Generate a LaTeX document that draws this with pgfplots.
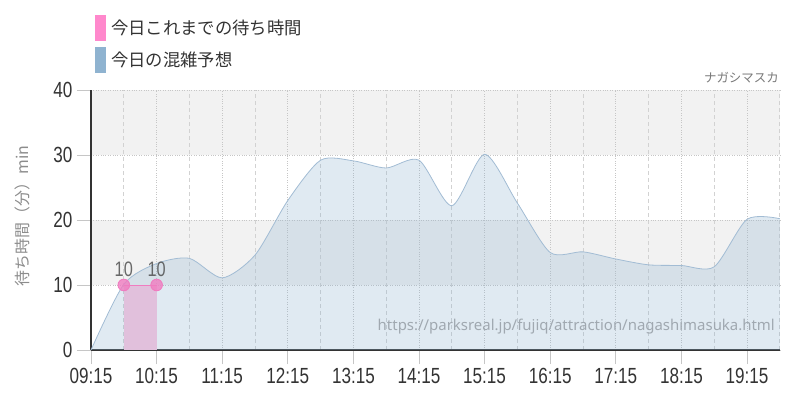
\documentclass[border=0pt]{standalone}
\usepackage{fontspec}
\usepackage{pgfplots}
\pgfplotsset{compat=1.18}
\setmainfont{Noto Sans CJK JP}
\newfontfamily\numfont[FakeStretch=0.78]{Liberation Sans}
\newfontfamily\urlfont{Noto Sans}

\definecolor{todaypink}{HTML}{FF88CC}
\definecolor{markpink}{HTML}{F07CC0}
\definecolor{pinkarea}{HTML}{E1C0DC}
\definecolor{fcblue}{HTML}{8FB3D0}
\definecolor{fcline}{HTML}{A2BCD4}
\definecolor{bandgray}{HTML}{F2F2F2}
\definecolor{txt}{HTML}{333333}
\definecolor{urlgray}{HTML}{A0A8B0}

% x = half-hour steps from 09:15
\pgfplotstableread{
k   wait
0   0
1   10.1
2   13.3
3   14.1
4   11.1
5   14.6
6   23.0
7   29.2
8   29.1
9   28.0
10  29.2
11  22.2
12  30.1
13  22.6
14  15.0
15  15.1
16  14.0
17  13.1
18  13.0
19  12.8
20  20.1
21  20.2
}\forecast

\pgfplotstableread{
k   wait
1   10
2   10
}\sofar

\begin{document}
\begin{tikzpicture}
\begin{axis}[
    set layers,
    at={(91bp,50bp)}, anchor=south west,
    scale only axis,
    width=688.8bp, height=260bp,
    xmin=0, xmax=21, ymin=0, ymax=40,
    axis x line*=bottom, axis y line*=left,
    axis line style={draw=txt, line width=1.2bp},
    xtick={0,2,...,20},
    xticklabels={09:15,10:15,11:15,12:15,13:15,14:15,15:15,16:15,17:15,18:15,19:15},
    minor xtick={1,3,...,21},
    ytick={0,10,...,40},
    grid=both,
    major grid style={draw=gray!45, dotted, line width=0.8bp},
    minor grid style={draw=gray!35, dash pattern=on 4bp off 3bp, line width=0.7bp},
    tick align=outside,
    major tick length=14bp,
    minor tick length=0pt,
    tick style={draw=gray!45, line width=0.8bp},
    /pgf/number format/assume math mode=true,
    ticklabel style={font=\numfont\fontsize{22}{22}\selectfont, text=txt},
    xticklabel style={yshift=-1bp},
    yticklabel style={xshift=-1bp},
    clip=false,
]
  % background bands
  \addplot[on layer=axis background, draw=none, fill=bandgray]
    coordinates {(0,10) (21,10) (21,20) (0,20)} -- cycle;
  \addplot[on layer=axis background, draw=none, fill=bandgray]
    coordinates {(0,30) (21,30) (21,40) (0,40)} -- cycle;

  % forecast area and line
  \addplot[smooth, tension=0.45, draw=none, fill=fcblue, fill opacity=0.28]
    table[x=k, y=wait] {\forecast} \closedcycle;
  \addplot[smooth, tension=0.45, draw=fcline, line width=0.8bp]
    table[x=k, y=wait] {\forecast};

  % waiting time so far
  \addplot[draw=none, fill=pinkarea] table[x=k, y=wait] {\sofar} \closedcycle;
  \addplot[draw=markpink, line width=0.9bp, mark=*,
    mark options={draw=none, fill=markpink, fill opacity=0.8},
    mark size=5.8bp,
    nodes near coords,
    every node near coord/.style={font=\numfont\fontsize{21}{21}\selectfont,
      text=txt!90, anchor=south, yshift=5bp}]
    table[x=k, y=wait] {\sofar};
\end{axis}

% legend
\fill[todaypink] (95bp,359.3bp) rectangle (106bp,385bp);
\node[anchor=west, text=txt, inner sep=0pt] at (111bp,372bp) {\fontsize{17.4}{17.4}\selectfont 今日これまでの待ち時間};
\fill[fcblue] (95bp,327.3bp) rectangle (106bp,353.3bp);
\node[anchor=west, text=txt, inner sep=0pt] at (111bp,340bp) {\fontsize{17.4}{17.4}\selectfont 今日の混雑予想};

% notes
\node[anchor=east, text=gray!95!black, inner sep=0pt] at (779bp,322bp) {\fontsize{12.5}{12.5}\selectfont ナガシマスカ};
\node[rotate=90, text=gray!90, inner sep=0pt] at (22bp,184bp) {\fontsize{16}{16}\selectfont 待ち時間（分）min};
\node[anchor=base east, text=urlgray, inner sep=0pt] at (775bp,69bp)
  {\urlfont\fontsize{15}{15}\selectfont https://parksreal.jp/fujiq/attraction/nagashimasuka.html};
\pgfresetboundingbox
\path (0bp,0bp) rectangle (800bp,400bp);
\end{tikzpicture}
\end{document}
